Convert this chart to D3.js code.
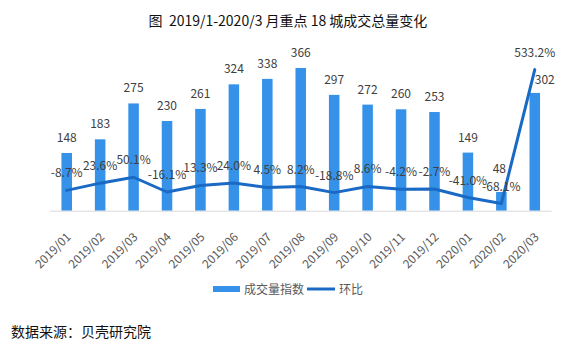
<!DOCTYPE html>
<html>
<head>
<meta charset="utf-8">
<script src="https://cdn.jsdelivr.net/npm/d3@7"></script>
<style>
  html, body { margin: 0; padding: 0; background: #fff; }
  svg { display: block; font-family: "Noto Sans CJK SC", "Microsoft YaHei", sans-serif; }
</style>
</head>
<body>
<svg id="chart" width="570" height="346"></svg>
<script>
const categories = ["2019/01","2019/02","2019/03","2019/04","2019/05","2019/06","2019/07","2019/08","2019/09","2019/10","2019/11","2019/12","2020/01","2020/02","2020/03"];
const volumeIndex = [148,183,275,230,261,324,338,366,297,272,260,253,149,48,302];
const momChange = [-8.7,23.6,50.1,-16.1,13.3,24.0,4.5,8.2,-18.8,8.6,-4.2,-2.7,-41.0,-68.1,533.2];
const titleText = "图  2019/1-2020/3 月重点 18 城成交总量变化";
const seriesNames = ["成交量指数", "环比"];
const sourceText = "数据来源：贝壳研究院";

const barColor = "#3592E8";
const lineColor = "#1A6AC5";
const labelColor = "#404040";
const axisTextColor = "#595959";

const svg = d3.select("#chart");

const x = d3.scaleBand().domain(categories).range([50, 551.5]).paddingInner(0.685).paddingOuter(0.3425);
const yBar = d3.scaleLinear().domain([0, 400]).range([210.7, 54.7]);
const yLine = d3.scaleLinear().domain([-100, 600]).range([210.7, 54.7]);
const cx = d => x(d) + x.bandwidth() / 2;

// title
svg.append("text").attr("x", 288).attr("y", 25.5).attr("text-anchor", "middle")
  .attr("xml:space", "preserve").style("white-space", "pre")
  .attr("font-size", 14).attr("fill", "#111").text(titleText);

// bars
svg.append("g").selectAll("rect").data(categories).join("rect")
  .attr("x", d => x(d)).attr("width", x.bandwidth())
  .attr("y", (d, i) => yBar(volumeIndex[i]))
  .attr("height", (d, i) => yBar(0) - yBar(volumeIndex[i]))
  .attr("fill", barColor);

// x axis
const xAxis = svg.append("g").attr("transform", `translate(0,${yBar(0)})`)
  .call(d3.axisBottom(x).tickSize(0).tickSizeOuter(0));
xAxis.select(".domain").attr("stroke", "#d9d9d9").attr("stroke-width", 1)
  .attr("d", "M50,0.5H551.5");
xAxis.selectAll(".tick text")
  .attr("font-size", 12).attr("fill", axisTextColor)
  .attr("font-family", "\"Noto Sans CJK SC\", sans-serif")
  .attr("text-anchor", "end").attr("dy", null).attr("y", 0)
  .attr("transform", "translate(5,27) rotate(-45)");

// line
const line = d3.line().x((d, i) => cx(categories[i])).y(d => yLine(d));
svg.append("path").datum(momChange).attr("d", line)
  .attr("fill", "none").attr("stroke", lineColor).attr("stroke-width", 3)
  .attr("stroke-linejoin", "round").attr("stroke-linecap", "round");

// bar labels (small nudges to avoid overlap, like the source)
const barNudge = { "2020/02": [-2, -8], "2020/03": [10, 2] };
svg.append("g").selectAll("text").data(categories).join("text")
  .attr("x", d => cx(d) + (barNudge[d] ? barNudge[d][0] : 0))
  .attr("y", (d, i) => yBar(volumeIndex[i]) - 11 + (barNudge[d] ? barNudge[d][1] : 0))
  .attr("text-anchor", "middle").attr("font-size", 12).attr("fill", labelColor)
  .text((d, i) => volumeIndex[i]);

// line labels
svg.append("g").selectAll("text").data(categories).join("text")
  .attr("x", d => cx(d))
  .attr("y", (d, i) => yLine(momChange[i]) - 13)
  .attr("text-anchor", "middle").attr("font-size", 12).attr("fill", labelColor)
  .text((d, i) => momChange[i].toFixed(1) + "%");

// legend
const lg = svg.append("g");
lg.append("rect").attr("x", 213).attr("y", 286).attr("width", 27).attr("height", 6).attr("fill", barColor);
lg.append("text").attr("x", 244).attr("y", 293.5).attr("font-size", 12).attr("fill", axisTextColor).text(seriesNames[0]);
lg.append("line").attr("x1", 307).attr("x2", 335).attr("y1", 289).attr("y2", 289)
  .attr("stroke", lineColor).attr("stroke-width", 3);
lg.append("text").attr("x", 339).attr("y", 293.5).attr("font-size", 12).attr("fill", axisTextColor).text(seriesNames[1]);

// source
svg.append("text").attr("x", 11).attr("y", 337).attr("font-size", 14).attr("fill", "#111").text(sourceText);
</script>
</body>
</html>
